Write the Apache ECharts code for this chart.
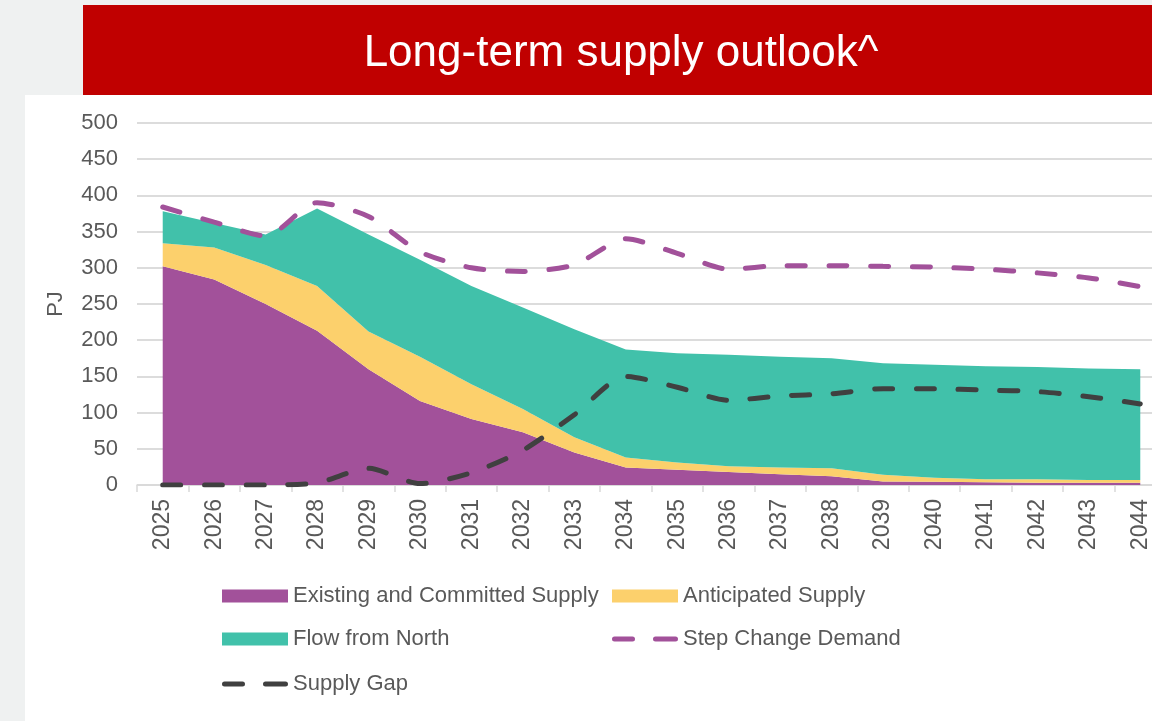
<!DOCTYPE html>
<html>
<head>
<meta charset="utf-8">
<script src="https://cdn.jsdelivr.net/npm/echarts@6/dist/echarts.min.js"></script>
<style>
html,body{margin:0;padding:0;background:#eff1f1;overflow:hidden;width:1152px;height:721px;}
#chart{width:1166px;height:721px;}
</style>
</head>
<body>
<div id="chart"></div>
<script>
// ---- data ----
const years = ['2025','2026','2027','2028','2029','2030','2031','2032','2033','2034','2035','2036','2037','2038','2039','2040','2041','2042','2043','2044'];
const existingSupply = [302, 284, 250, 213, 160, 116, 91, 73, 45, 24, 21, 18, 15, 12, 5, 4.6, 3.7, 3, 3, 3];
const anticipatedSupply = [32, 44, 54, 62, 52, 61, 48, 32, 21, 14, 10, 8, 9, 11, 9, 5.4, 4.3, 5, 4, 4];
const flowFromNorth = [44, 34, 42, 107, 134, 134, 136, 140, 149, 149, 151, 154, 153, 152, 154, 156, 156, 155, 154, 153];
const stepChangeDemand = [384, 363, 344, 390, 371, 322, 300, 295, 304, 340, 320, 298, 303, 303, 302, 301, 298, 293, 286, 274];
const supplyGap = [0, 0, 0, 3, 23, 2, 17, 48, 97, 150, 135, 117, 123, 126, 133, 133, 131, 129, 122, 112];
const yTicks = [0, 500, 50];

const C_EXIST = '#a2519a', C_ANT = '#fcd06c', C_FLOW = '#41c1aa', C_DEM = '#a2519a', C_GAP = '#404040';
const TXT = '#595959';
const FONT = 'Liberation Sans, Arial, sans-serif';
const DASH_ICON = 'path://M2.5,0H20.5A2.5,2.5 0 0 1 20.5,5H2.5A2.5,2.5 0 0 1 2.5,0Z M43.5,0H63.5A2.5,2.5 0 0 1 63.5,5H43.5A2.5,2.5 0 0 1 43.5,0Z';

const chart = echarts.init(document.getElementById('chart'), null, {renderer:'canvas'});

function areaSeries(name, data, color){
  return {name, type:'line', stack:'supply', data, symbol:'none', smooth:false,
    lineStyle:{width:0}, itemStyle:{color}, areaStyle:{color, opacity:1}, z:2};
}
function dashSeries(name, data, color){
  return {name, type:'line', data, symbol:'none', smooth:0.25,
    itemStyle:{color},
    lineStyle:{color, width:5, type:[18,23.7], cap:'round'}, z:5};
}
function legendItem(name, left, top, isLine){
  return {
    left, top, padding:0, orient:'horizontal', selectedMode:false,
    itemWidth: 66, itemHeight: isLine ? 5 : 13,
    data:[ {name, icon: isLine ? DASH_ICON : 'rect'} ],
    itemStyle:{borderWidth:0},
    lineStyle:{width:0},
    textStyle:{color:TXT, fontSize:22, fontFamily:FONT}
  };
}

const option = {
  animation:false,
  backgroundColor:'transparent',
  graphic:{elements:[
    {type:'rect', z:-30, shape:{x:0,y:0,width:1166,height:721}, style:{fill:'#eff1f1'}},
    {type:'rect', z:-20, shape:{x:25,y:95,width:1141,height:626}, style:{fill:'#ffffff'}},
    {type:'rect', z:-20, shape:{x:83,y:5,width:1083,height:90}, style:{fill:'#c00000'}},
    {type:'text', z:10, x:621, y:54, style:{text:'Long-term supply outlook^', fill:'#ffffff', font:'44px Liberation Sans, Arial, sans-serif', textAlign:'center', textVerticalAlign:'middle'}},
    {type:'text', z:10, x:56, y:304, rotation:Math.PI/2, style:{text:'PJ', fill:TXT, font:'22px Liberation Sans, Arial, sans-serif', textAlign:'center', textVerticalAlign:'middle'}}
  ]},
  grid:{left:137, top:123, bottom:236, right:0, containLabel:false},
  xAxis:{type:'category', data:years, boundaryGap:true,
    axisLine:{lineStyle:{color:'#d9d9d9', width:1.5}},
    axisTick:{show:true, length:7, lineStyle:{color:'#d9d9d9', width:1.5}},
    axisLabel:{rotate:90, color:TXT, fontSize:23, fontFamily:FONT, margin:14, interval:0},
    splitLine:{show:false}},
  yAxis:{type:'value', min:yTicks[0], max:yTicks[1], interval:yTicks[2],
    axisLine:{show:false}, axisTick:{show:false},
    axisLabel:{color:TXT, fontSize:22, fontFamily:FONT, margin:19},
    splitLine:{lineStyle:{color:'#dcdcdc', width:2}}},
  legend:[
    legendItem('Existing and Committed Supply', 222, 585, false),
    legendItem('Anticipated Supply', 612, 585, false),
    legendItem('Flow from North', 222, 628, false),
    legendItem('Step Change Demand', 612, 628, true),
    legendItem('Supply Gap', 222, 673, true)
  ],
  series:[
    areaSeries('Existing and Committed Supply', existingSupply, C_EXIST),
    areaSeries('Anticipated Supply', anticipatedSupply, C_ANT),
    areaSeries('Flow from North', flowFromNorth, C_FLOW),
    dashSeries('Step Change Demand', stepChangeDemand, C_DEM),
    dashSeries('Supply Gap', supplyGap, C_GAP)
  ]
};
chart.setOption(option);
</script>
</body>
</html>
